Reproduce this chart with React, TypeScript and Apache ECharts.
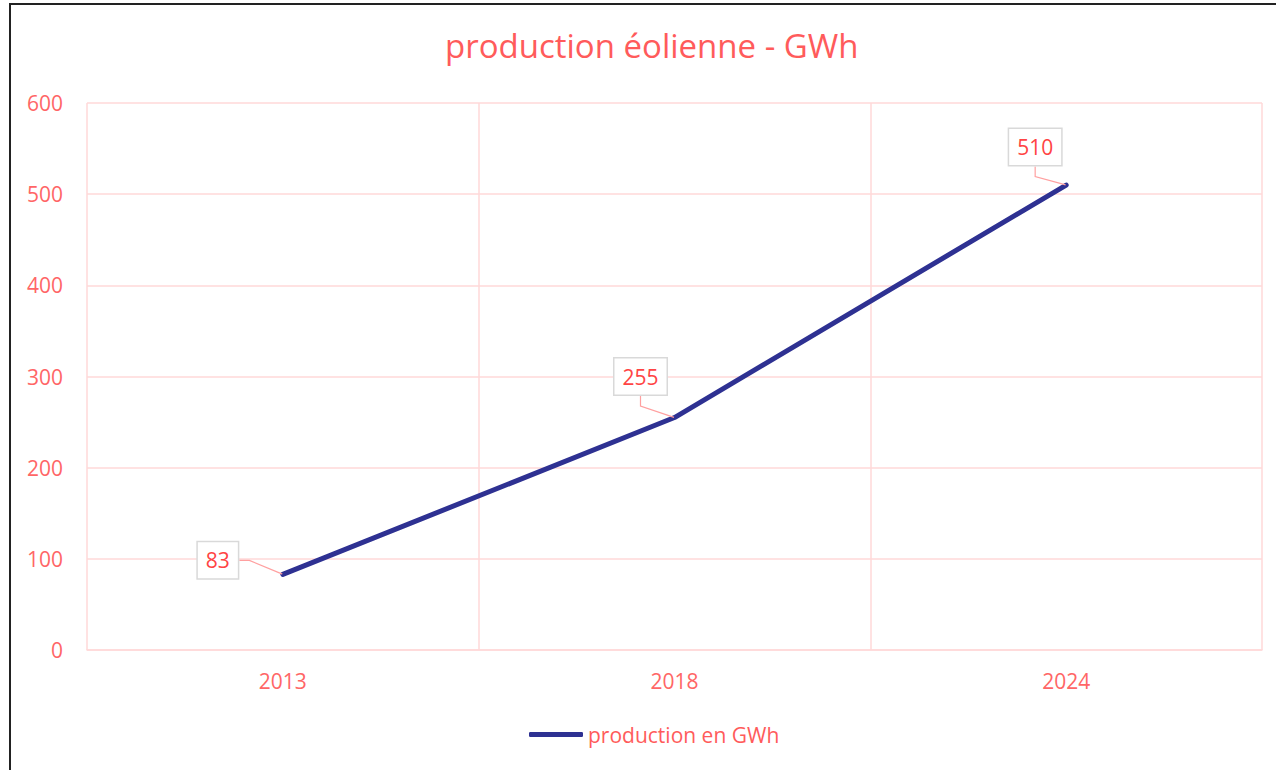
import React, { useEffect, useRef } from "react";
import * as echarts from "echarts";

const categories = ["2013", "2018", "2024"];
const values = [83, 255, 510];
const seriesName = "production en GWh";
const titleText = "production éolienne - GWh";
const labelOffsets = [
  [-65, -14],
  [-34, -41],
  [-31, -38],
];

export default function App() {
  const ref = useRef<HTMLDivElement>(null);
  useEffect(() => {
    if (!ref.current) return;
    const chart = echarts.init(ref.current, null, { renderer: "svg" });
    const font = "Open Sans";
    chart.setOption({
      animation: false,
      textStyle: { fontFamily: font },
      title: {
        text: titleText,
        left: 440,
        top: 24,
        textStyle: { color: "#FF5B5B", fontSize: 33, fontWeight: "normal", fontFamily: font },
      },
      graphic: [
        {
          type: "rect",
          shape: { x: 10, y: 4, width: 1300, height: 800 },
          style: { fill: "none", stroke: "#222", lineWidth: 2 },
          silent: true,
        },
      ],
      grid: { left: 87, right: 14, top: 103, bottom: 120, containLabel: false },
      xAxis: {
        type: "category",
        data: categories,
        boundaryGap: true,
        axisLine: { show: true, lineStyle: { color: "#FFD9D9", width: 1.5 } },
        axisTick: { show: false },
        axisLabel: { color: "#FF6666", fontSize: 21, margin: 20, fontFamily: font },
        splitLine: { show: true, lineStyle: { color: "#FFD9D9", width: 1.5 } },
      },
      yAxis: {
        type: "value",
        min: 0,
        max: 600,
        interval: 100,
        axisLine: { show: false },
        axisTick: { show: false },
        axisLabel: { color: "#FF6666", fontSize: 21, margin: 24, fontFamily: font },
        splitLine: { show: true, lineStyle: { color: "#FFD9D9", width: 1.5 } },
      },
      legend: {
        show: true,
        bottom: 20,
        left: 524,
        icon: "roundRect",
        itemWidth: 54,
        itemHeight: 5,
        itemGap: 4,
        textStyle: { color: "#FF5B5B", fontSize: 21, fontFamily: font },
        data: [{ name: seriesName }],
      },
      series: [
        {
          name: seriesName,
          type: "line",
          data: values,
          symbol: "circle",
          symbolSize: 1,
          showSymbol: true,
          lineStyle: { color: "#2E3192", width: 5, cap: "round" },
          itemStyle: { color: "#2E3192" },
          label: {
            show: true,
            position: "inside",
            color: "#FF4444",
            fontSize: 21,
            fontFamily: font,
            backgroundColor: "#FFFFFF",
            borderColor: "#D9D9D9",
            borderWidth: 1.5,
            padding: [8, 8, 7, 8],
          },
          labelLine: {
            show: true,
            length2: 10,
            lineStyle: { color: "#FFA0A0", width: 1.2 },
          },
          labelLayout: (params: any) => {
            const o = labelOffsets[params.dataIndex] || [0, 0];
            return { dx: o[0], dy: o[1] };
          },
        },
      ],
    });
    return () => chart.dispose();
  }, []);
  return (
    <div
      ref={ref}
      style={{ position: "fixed", left: 0, top: 0, width: 1276, height: 770, background: "#fff" }}
    />
  );
}
